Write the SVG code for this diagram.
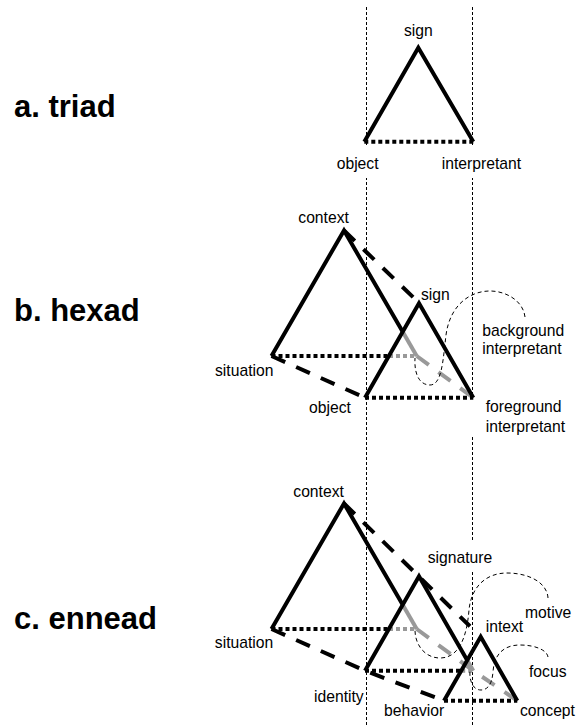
<svg xmlns="http://www.w3.org/2000/svg" width="576" height="727" viewBox="0 0 576 727">
  <style>
    .guide { stroke: #000; stroke-width: 1; stroke-dasharray: 3 2; fill: none; }
    .solid { fill: none; stroke: #000; stroke-width: 4; stroke-linejoin: miter; stroke-miterlimit: 10; }
    .dot { fill: none; stroke: #000; stroke-width: 4; stroke-dasharray: 4 3; }
    .dash { fill: none; stroke: #000; stroke-width: 4; stroke-dasharray: 15 12; }
    .gray { stroke: #999; }
    .loop { fill: none; stroke: #000; stroke-width: 1; stroke-dasharray: 4 3; }
    .mask { fill: #fff; }
    text { font-family: "Liberation Sans", Arial, Helvetica, sans-serif; font-size: 15.7px; fill: #000; }
    .title { font-weight: bold; font-size: 31px; }
  </style>

  <rect width="576" height="727" fill="#fff"/>

  <!-- vertical reference guides -->
  <g id="guides">
    <line class="guide" x1="366.5" y1="7" x2="366.5" y2="727"/>
    <line class="guide" x1="472.5" y1="7" x2="472.5" y2="727"/>
  </g>

  <!-- white label backings that interrupt the guides -->
  <g id="label-backings">
    <rect class="mask" x="334" y="147" width="46" height="31"/>
    <rect class="mask" x="439" y="147" width="88" height="31"/>
    <rect class="mask" x="468" y="399" width="100" height="37"/>
    <rect class="mask" x="425" y="542" width="70" height="29"/>
  </g>

  <!-- triangles, edges and loops -->
  <g id="connectors">
    <!-- a. triad -->
    <polyline class="solid" points="364.3,141.7 418.3,47.7 473.3,141.7"/>
    <line class="dot" x1="364.3" y1="141.7" x2="473.3" y2="141.7"/>

    <!-- b. hexad -->
    <line class="dash" x1="344" y1="230.5" x2="416.5" y2="300.5"/>
    <line class="dash" x1="271.5" y1="356" x2="365" y2="397.7"/>
    <line class="dash gray" x1="416.7" y1="356" x2="473.3" y2="397.7"/>
    <polyline class="solid" points="271.5,356 344,230.5 402.7,331.8"/>
    <line class="solid gray" x1="402.7" y1="331.8" x2="416.7" y2="356"/>
    <line class="dot" x1="271.5" y1="356" x2="389" y2="356"/>
    <line class="dot gray" x1="389" y1="356" x2="416.7" y2="356"/>
    <polyline class="solid" points="365,397.7 419,303.3 473.3,397.7"/>
    <line class="dot" x1="365" y1="397.7" x2="473.3" y2="397.7"/>
    <path class="loop" d="M525,317 C523,300 505,291 490,291 C470,291 450,305 446,335 C443,360 442,385 430,385 C420,385 414,375 415,358"/>

    <!-- c. ennead -->
    <line class="dash" x1="344" y1="503.5" x2="470" y2="626.3"/>
    <polyline class="dash" points="271.5,629 365,670.7 444,700.7"/>
    <polyline class="dash gray" points="416.7,629 473.3,670.7 517.3,700.7"/>
    <polyline class="solid" points="271.5,629 344,503.5 402.7,604.8"/>
    <line class="solid gray" x1="402.7" y1="604.8" x2="416.7" y2="629"/>
    <line class="dot" x1="271.5" y1="629" x2="389" y2="629"/>
    <line class="dot gray" x1="389" y1="629" x2="416.7" y2="629"/>
    <polyline class="solid" points="365,670.7 419,576.3 467.2,660.3"/>
    <line class="solid gray" x1="467.2" y1="660.3" x2="473.3" y2="670.7"/>
    <line class="dot" x1="365" y1="670.7" x2="461.2" y2="670.7"/>
    <line class="dot gray" x1="461.2" y1="670.7" x2="473.3" y2="670.7"/>
    <polyline class="solid" points="444,700.7 480.7,636.7 517.3,700.7"/>
    <line class="dot" x1="444" y1="700.7" x2="517.3" y2="700.7"/>
    <path class="loop" d="M548,598 C547,582 528,573 507,573 C485,573 471,588 469,610 C467,635 460,658 440,658 C425,658 415,645 415,630"/>
    <path class="loop" d="M548,657 C547,650 535,645 520,645 C503,645 494,655 493,672 C492,685 487,690 481,690 C473,690 469,681 470,670"/>
  </g>

  <!-- section titles -->
  <g id="title-triad"><text class="title" x="14" y="117">a. triad</text></g>
  <g id="title-hexad"><text class="title" x="14" y="321">b. hexad</text></g>
  <g id="title-ennead"><text class="title" x="14" y="629">c. ennead</text></g>

  <!-- a. triad nodes -->
  <g id="triad-sign"><text x="418.3" y="35.5" text-anchor="middle">sign</text></g>
  <g id="triad-object"><text x="336.7" y="169.3">object</text></g>
  <g id="triad-interpretant"><text x="441.7" y="169.3">interpretant</text></g>

  <!-- b. hexad nodes -->
  <g id="hexad-context"><text x="298.3" y="222.7">context</text></g>
  <g id="hexad-sign"><text x="421" y="300">sign</text></g>
  <g id="hexad-situation"><text x="215" y="375.7">situation</text></g>
  <g id="hexad-object"><text x="309" y="413.3">object</text></g>
  <g id="hexad-background"><text x="482.3" y="335.5">background</text><text x="482.3" y="353.5">interpretant</text></g>
  <g id="hexad-foreground"><text x="485.7" y="412">foreground</text><text x="485.7" y="431.7">interpretant</text></g>

  <!-- c. ennead nodes -->
  <g id="ennead-context"><text x="293.3" y="496.7">context</text></g>
  <g id="ennead-signature"><text x="427.7" y="563.3">signature</text></g>
  <g id="ennead-situation"><text x="214.8" y="648.3">situation</text></g>
  <g id="ennead-motive"><text x="525" y="617.7">motive</text></g>
  <g id="ennead-intext"><text x="485.7" y="631.7">intext</text></g>
  <g id="ennead-focus"><text x="529" y="677">focus</text></g>
  <g id="ennead-identity"><text x="314" y="701.7">identity</text></g>
  <g id="ennead-behavior"><text x="384" y="716">behavior</text></g>
  <g id="ennead-concept"><text x="520" y="716">concept</text></g>
</svg>
